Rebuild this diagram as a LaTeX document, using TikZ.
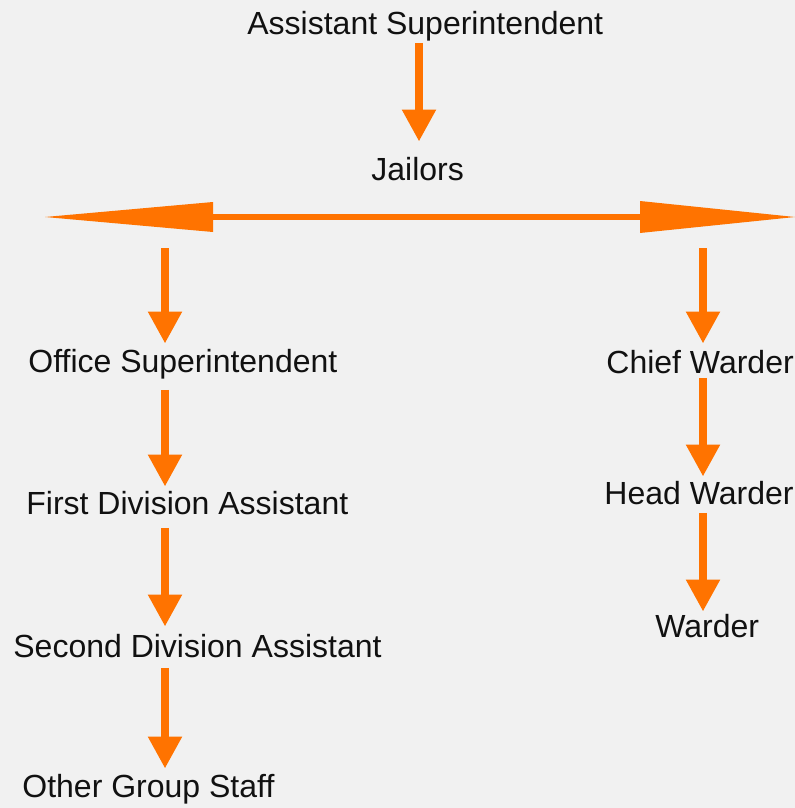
\documentclass[tikz,border=0pt]{standalone}
\usepackage{fontspec}
\setmainfont{Liberation Sans}
\usepackage{xcolor}
\usetikzlibrary{arrows.meta}
\definecolor{jailorange}{HTML}{FF7300}
\definecolor{jailbg}{HTML}{F1F1F1}
\definecolor{jailtext}{HTML}{111111}

\begin{document}
\begin{tikzpicture}[x=0.5pt,y=-0.5pt,
  post/.style={anchor=base west,inner sep=0pt,text=jailtext,
    font=\fontsize{16}{19}\selectfont,text height=0.75em,text depth=0.22em},
  down/.style={draw=jailorange,line width=4pt,
    -{Triangle[width=16pt,length=16pt]}},
  spread/.style={draw=jailorange,line width=3pt,
    {Triangle[width=15pt,length=84pt,line width=0pt]}-{Triangle[width=16pt,length=77.5pt,line width=0pt]}}]
  \fill[jailbg] (0,0) rectangle (795,808);
  \useasboundingbox (0,0) rectangle (795,808);
  % column guides
  \coordinate (topx) at (419,0);
  \coordinate (lcol) at (165,0);
  \coordinate (rcol) at (703,0);
  \coordinate (barl) at (45,217);
  \coordinate (barr) at (795,217);
  % posts
  \node[post] (as) at (247,35) {Assistant Superintendent};
  \node[post] (jl) at (371,180) {Jailors};
  \node[post] (os) at (28,372) {Office Superintendent};
  \node[post] (fd) at (26,514) {First Division Assistant};
  \node[post] (sd) at (13,657) {Second Division Assistant};
  \node[post] (og) at (22,797) {Other Group Staff};
  \node[post] (cw) at (606,373) {Chief Warder};
  \node[post] (hw) at (604,504) {Head Warder};
  \node[post] (wd) at (655,637) {Warder};
  % arrows
  \draw[down,shorten <=1.5pt,shorten >=11.5pt] (as.south -| topx) -- (jl.north -| topx);
  \draw[spread] (barl) -- (barr);
  \draw[down,shorten <=15.5pt,shorten >=6.5pt] (barl -| lcol) -- (os.north -| lcol);
  \draw[down,shorten <=6.5pt,shorten >=6pt] (os.south -| lcol) -- (fd.north -| lcol);
  \draw[down,shorten <=4.5pt,shorten >=7.5pt] (fd.south -| lcol) -- (sd.north -| lcol);
  \draw[down,shorten <=3pt,shorten >=6.5pt] (sd.south -| lcol) -- (og.north -| lcol);
  \draw[down,shorten <=15.5pt,shorten >=7pt] (barr -| rcol) -- (cw.north -| rcol);
  \draw[down,shorten >=6pt] (cw.south -| rcol) -- (hw.north -| rcol);
  \draw[down,shorten <=2pt,shorten >=5pt] (hw.south -| rcol) -- (wd.north -| rcol);
\end{tikzpicture}
\end{document}
